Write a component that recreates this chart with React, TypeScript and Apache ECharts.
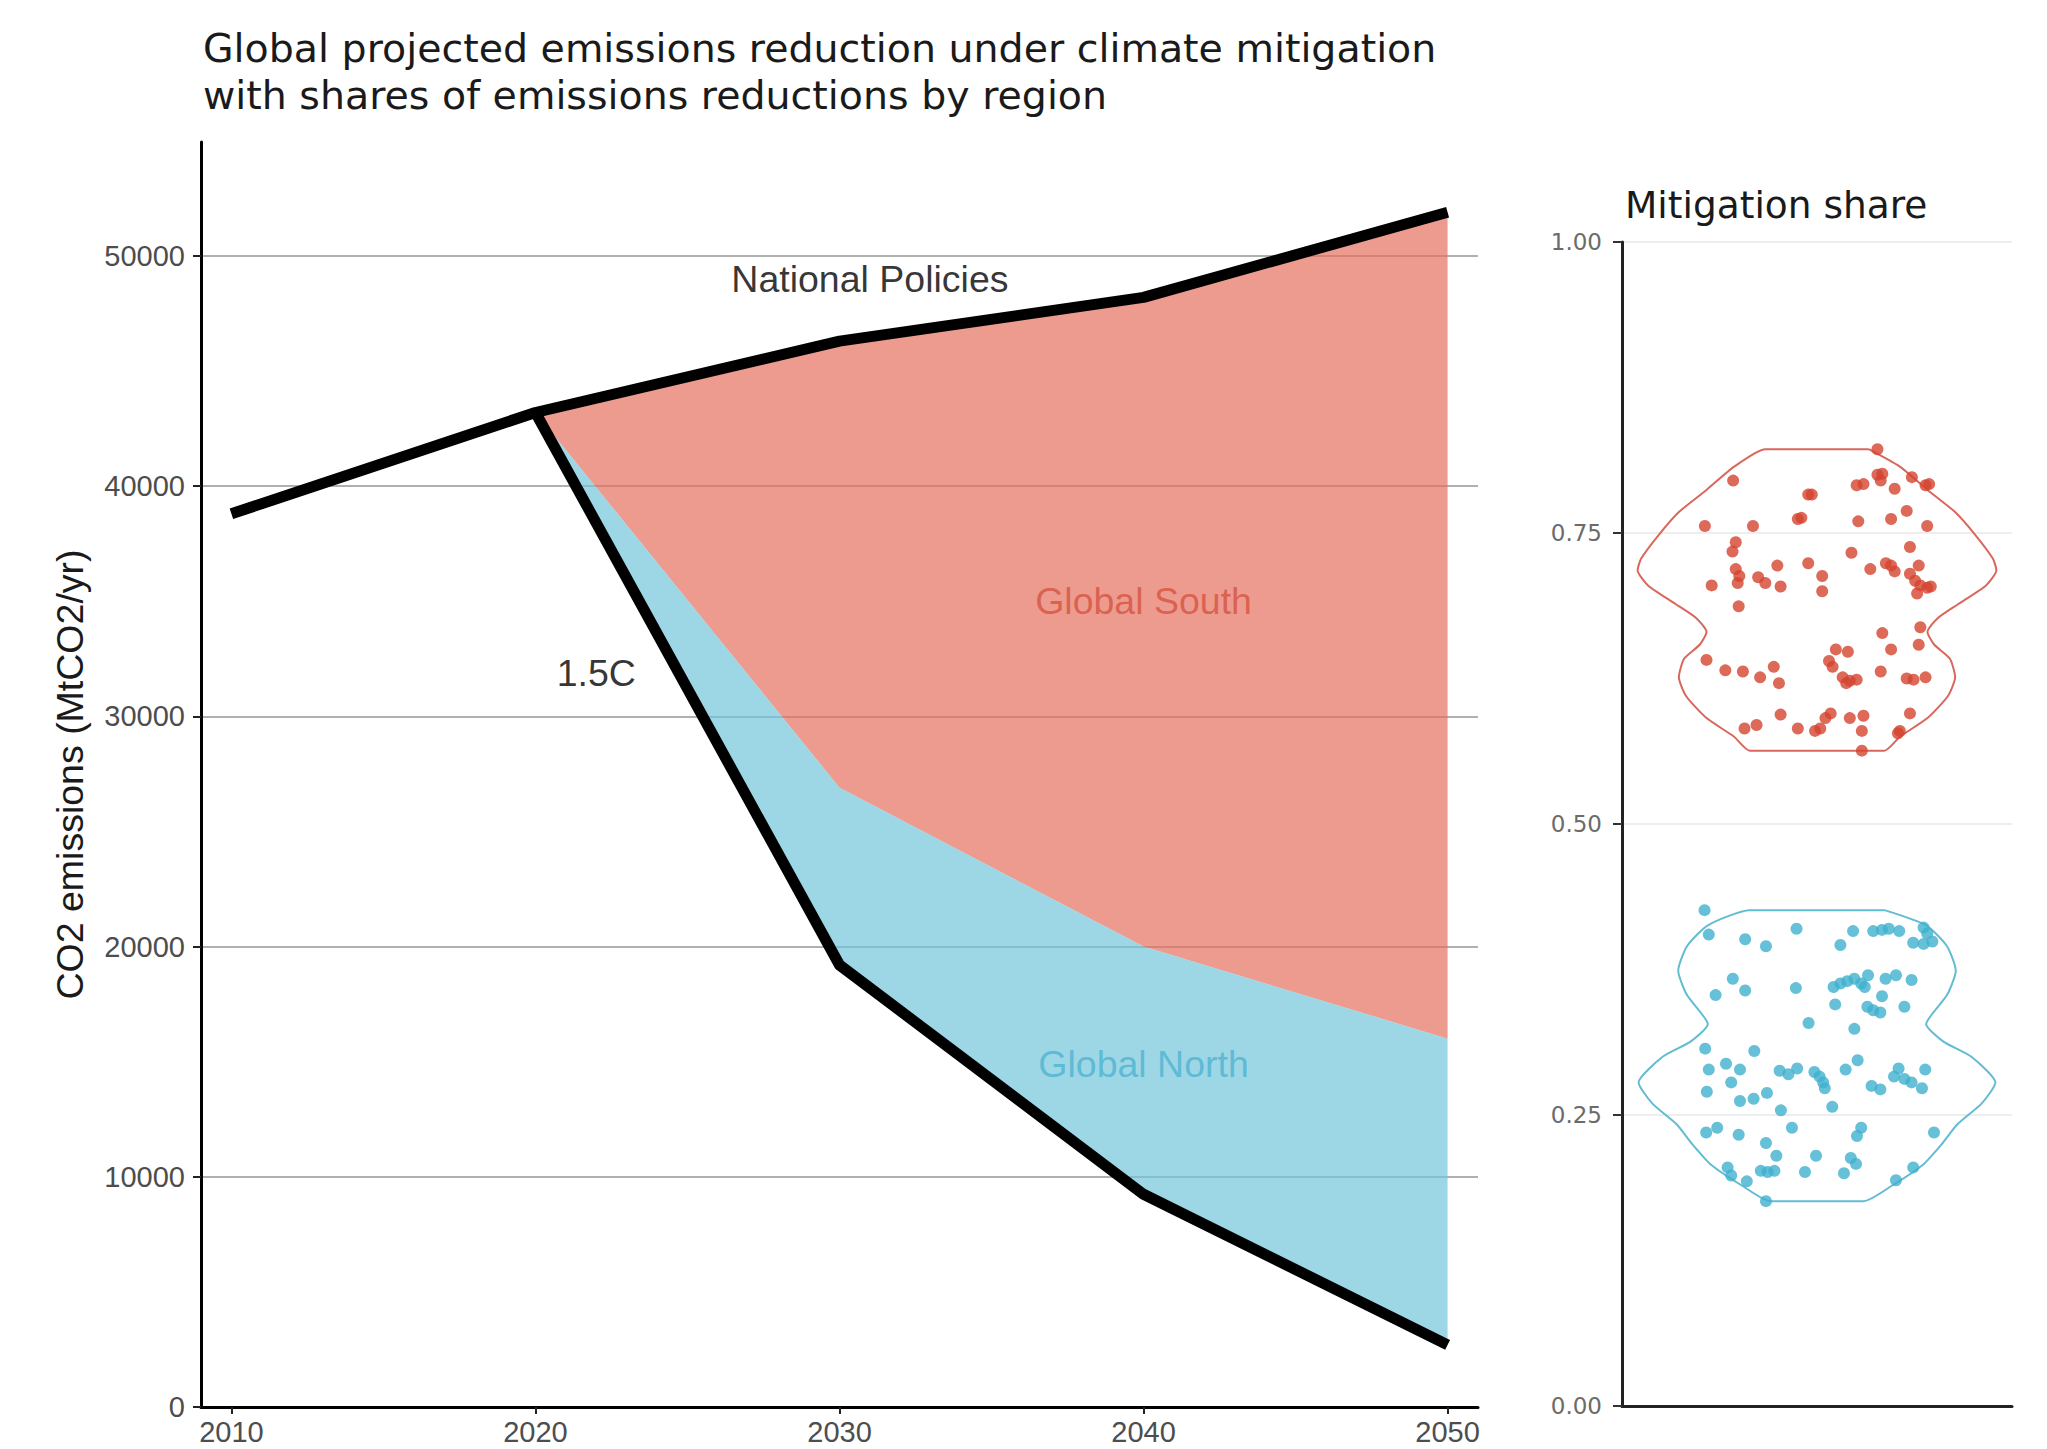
import React, { useEffect, useRef } from "react";
import * as echarts from "echarts";

// ---- Main panel data ----
const years = [2010, 2020, 2030, 2040, 2050];
const nationalPolicies = [38800, 43200, 46300, 48200, 51900];
const pathwayYears = [2020, 2030, 2040, 2050];
const pathway15C = [43200, 19200, 9240, 2700];
const northSouthSplit = [43200, 26900, 20000, 16000];
const emissionTicks = [0, 10000, 20000, 30000, 40000, 50000];

// ---- Mitigation share panel data ----
const shareTicks = [0, 0.25, 0.5, 0.75, 1];
const southViolinY = [0.822, 0.807, 0.787, 0.768, 0.748, 0.728, 0.718, 0.705, 0.689, 0.677, 0.665, 0.654, 0.642, 0.626, 0.61, 0.591, 0.575, 0.563];
const southViolinHalfWidth = [0.159, 0.255, 0.34, 0.425, 0.488, 0.541, 0.552, 0.52, 0.435, 0.372, 0.34, 0.361, 0.409, 0.425, 0.403, 0.34, 0.255, 0.207];
const northViolinY = [0.426, 0.413, 0.395, 0.374, 0.353, 0.328, 0.313, 0.3, 0.278, 0.26, 0.242, 0.225, 0.207, 0.189, 0.176];
const northViolinHalfWidth = [0.208, 0.336, 0.4, 0.427, 0.4, 0.336, 0.389, 0.475, 0.549, 0.507, 0.432, 0.384, 0.325, 0.229, 0.144];

const southPoints = [
  [1.186, 0.822], [0.742, 0.795], [1.122, 0.791], [1.143, 0.792], [1.186, 0.8], [1.201, 0.801], [1.196, 0.795], [1.239, 0.788],
  [1.292, 0.798], [1.345, 0.792], [1.334, 0.791], [0.973, 0.783], [0.984, 0.783], [0.941, 0.762], [0.952, 0.763], [0.655, 0.756],
  [0.803, 0.756], [1.127, 0.76], [1.228, 0.762], [1.276, 0.769], [1.339, 0.756], [0.75, 0.742], [0.74, 0.734], [1.286, 0.738],
  [1.106, 0.733], [0.973, 0.724], [0.878, 0.722], [0.75, 0.719], [0.761, 0.713], [0.756, 0.707], [0.819, 0.712], [0.841, 0.707],
  [0.888, 0.704], [1.016, 0.713], [1.016, 0.7], [0.676, 0.705], [1.164, 0.719], [1.212, 0.724], [1.228, 0.722], [1.239, 0.717],
  [1.313, 0.722], [1.286, 0.715], [1.302, 0.709], [1.318, 0.705], [1.339, 0.703], [1.35, 0.704], [1.308, 0.698], [0.759, 0.687],
  [1.318, 0.669], [1.201, 0.664], [1.313, 0.654], [1.228, 0.65], [1.058, 0.65], [1.095, 0.648], [0.66, 0.641], [1.037, 0.64],
  [1.048, 0.635], [0.718, 0.632], [0.772, 0.631], [0.867, 0.635], [0.825, 0.626], [0.883, 0.621], [1.196, 0.631], [1.079, 0.626],
  [1.101, 0.623], [1.122, 0.624], [1.09, 0.621], [1.276, 0.625], [1.297, 0.624], [1.334, 0.626], [1.286, 0.595], [0.888, 0.594],
  [1.042, 0.595], [1.026, 0.591], [1.101, 0.591], [1.143, 0.593], [0.777, 0.582], [0.814, 0.585], [0.941, 0.582], [0.994, 0.58],
  [1.01, 0.582], [1.138, 0.58], [1.255, 0.58], [1.249, 0.578], [1.138, 0.563],
];

const northPoints = [
  [0.654, 0.426], [0.667, 0.405], [0.779, 0.401], [0.843, 0.395], [0.937, 0.41], [1.072, 0.396], [1.111, 0.408], [1.173, 0.408],
  [1.2, 0.409], [1.221, 0.41], [1.253, 0.408], [1.328, 0.411], [1.339, 0.406], [1.296, 0.398], [1.328, 0.397], [1.355, 0.399],
  [0.741, 0.367], [0.779, 0.357], [0.688, 0.353], [0.935, 0.359], [1.051, 0.36], [1.072, 0.363], [1.093, 0.365], [1.115, 0.367],
  [1.136, 0.363], [1.157, 0.37], [1.147, 0.36], [1.211, 0.367], [1.243, 0.37], [1.291, 0.366], [1.056, 0.345], [1.155, 0.343],
  [1.173, 0.34], [1.195, 0.338], [1.2, 0.352], [1.269, 0.343], [0.974, 0.329], [1.115, 0.324], [0.656, 0.307], [0.807, 0.305],
  [0.72, 0.294], [0.763, 0.289], [0.667, 0.289], [0.885, 0.288], [0.912, 0.285], [0.939, 0.29], [0.992, 0.287], [1.008, 0.283],
  [1.019, 0.278], [1.024, 0.273], [1.088, 0.289], [1.125, 0.297], [1.251, 0.29], [1.237, 0.283], [1.269, 0.281], [1.291, 0.278],
  [1.323, 0.273], [1.333, 0.289], [0.736, 0.278], [0.661, 0.27], [0.763, 0.262], [0.805, 0.264], [0.846, 0.269], [1.168, 0.275],
  [1.195, 0.272], [1.047, 0.257], [0.889, 0.254], [0.659, 0.235], [0.693, 0.239], [0.759, 0.233], [0.923, 0.239], [1.136, 0.239],
  [1.123, 0.232], [1.36, 0.235], [0.843, 0.226], [0.875, 0.215], [0.997, 0.215], [1.104, 0.213], [1.12, 0.208], [1.083, 0.2],
  [0.725, 0.205], [0.736, 0.198], [0.784, 0.193], [0.827, 0.202], [0.848, 0.201], [0.869, 0.202], [0.963, 0.201], [1.243, 0.194],
  [1.296, 0.205], [0.843, 0.176],
];

const SANS = "'Liberation Sans', Arial, Helvetica, sans-serif";
const WIDE = "'DejaVu Sans', 'Liberation Sans', sans-serif";

function violinOutline(center: number, ys: number[], halves: number[]) {
  const right = ys.map((y, i) => [center + halves[i], y]);
  const left = ys.map((y, i) => [center - halves[i], y]).reverse();
  return [...right, ...left, right[0]];
}

function bandSeries(name: string, upper: number[], lower: number[], fill: string) {
  const top = pathwayYears.map((yr, i) => [yr, upper[i]]);
  const bottom = pathwayYears.map((yr, i) => [yr, lower[i]]).reverse();
  const polygon = [...top, ...bottom];
  return {
    type: "custom",
    name,
    xAxisIndex: 0,
    yAxisIndex: 0,
    silent: true,
    z: 2,
    data: polygon,
    renderItem: (params: any, api: any) => {
      if (params.dataIndex !== 0) return null;
      const points = polygon.map((p) => api.coord(p));
      return { type: "polygon", shape: { points }, style: { fill, stroke: "none" } };
    },
  };
}

function buildOption() {
  const npOnPathway = pathwayYears.map((yr) => nationalPolicies[years.indexOf(yr)]);
  const fmt = (v: number) => String(v);

  return {
    animation: false,
    backgroundColor: "#ffffff",
    title: [
      {
        text: "Global projected emissions reduction under climate mitigation\nwith shares of emissions reductions by region",
        left: 203,
        top: 24,
        padding: 0,
        textStyle: { fontFamily: WIDE, fontSize: 39.5, fontWeight: "normal", color: "#1a1a1a", lineHeight: 47 },
      },
      {
        text: "Mitigation share",
        left: 1625,
        top: 183,
        padding: 0,
        textStyle: { fontFamily: WIDE, fontSize: 37.5, fontWeight: "normal", color: "#1a1a1a", lineHeight: 44 },
      },
    ],
    grid: [
      { left: 201, top: 142, width: 1277, height: 1265, containLabel: false },
      { left: 1622, top: 242, width: 390, height: 1164, containLabel: false },
    ],
    xAxis: [
      {
        type: "value",
        gridIndex: 0,
        min: 2009,
        max: 2051,
        axisLine: { show: true, onZero: false, lineStyle: { color: "#000", width: 3 } },
        axisTick: { show: true, length: 7, customValues: years, lineStyle: { color: "#222", width: 2 } },
        axisLabel: { customValues: years, formatter: fmt, fontFamily: SANS, fontSize: 29, color: "#4d4d4d", margin: 10 },
        splitLine: { show: false },
      },
      {
        type: "value",
        gridIndex: 1,
        min: 0.4,
        max: 1.6,
        axisLine: { show: true, onZero: false, lineStyle: { color: "#222", width: 3 } },
        axisTick: { show: false },
        axisLabel: { show: false },
        splitLine: { show: false },
      },
    ],
    yAxis: [
      {
        type: "value",
        gridIndex: 0,
        min: 0,
        max: 54950,
        interval: 10000,
        name: "CO2 emissions (MtCO2/yr)",
        nameLocation: "middle",
        nameGap: 112,
        nameTextStyle: { fontFamily: SANS, fontSize: 37.5, color: "#1a1a1a" },
        axisLine: { show: true, onZero: false, lineStyle: { color: "#000", width: 3 } },
        axisTick: { show: true, length: 8, customValues: emissionTicks, lineStyle: { color: "#222", width: 2 } },
        axisLabel: { customValues: emissionTicks, formatter: fmt, fontFamily: SANS, fontSize: 29, color: "#4d4d4d", margin: 16 },
        splitLine: { show: true, showMinLine: false, lineStyle: { color: "#b0b0b0", width: 2 } },
      },
      {
        type: "value",
        gridIndex: 1,
        min: 0,
        max: 1,
        interval: 0.25,
        axisLine: { show: true, onZero: false, lineStyle: { color: "#222", width: 3 } },
        axisTick: { show: true, length: 9, customValues: shareTicks, lineStyle: { color: "#333", width: 2 } },
        axisLabel: {
          customValues: shareTicks,
          formatter: (v: number) => v.toFixed(2),
          fontFamily: WIDE,
          fontSize: 23,
          color: "#6b6b6b",
          margin: 20,
        },
        splitLine: { show: true, showMinLine: false, lineStyle: { color: "#eeeeee", width: 2 } },
      },
    ],
    series: [
      bandSeries("Global South", npOnPathway, northSouthSplit, "rgba(231,112,95,0.7)"),
      bandSeries("Global North", northSouthSplit, pathway15C, "rgba(115,198,219,0.7)"),
      {
        type: "line",
        name: "National Policies",
        xAxisIndex: 0,
        yAxisIndex: 0,
        data: years.map((yr, i) => [yr, nationalPolicies[i]]),
        symbol: "none",
        lineStyle: { color: "#000", width: 11, cap: "butt", join: "round" },
        z: 5,
      },
      {
        type: "line",
        name: "1.5C",
        xAxisIndex: 0,
        yAxisIndex: 0,
        data: pathwayYears.map((yr, i) => [yr, pathway15C[i]]),
        symbol: "none",
        lineStyle: { color: "#000", width: 11, cap: "butt", join: "round" },
        z: 5,
      },
      {
        type: "scatter",
        name: "labels",
        xAxisIndex: 0,
        yAxisIndex: 0,
        symbolSize: 1,
        itemStyle: { color: "rgba(0,0,0,0)" },
        silent: true,
        z: 6,
        label: { show: true, position: "inside", formatter: "{b}", fontFamily: SANS, fontSize: 37.5 },
        data: [
          { name: "National Policies", value: [2031.0, 49000], label: { color: "#000000" } },
          { name: "1.5C", value: [2022.0, 31900], label: { color: "#000000" } },
          { name: "Global South", value: [2040.0, 35000], label: { color: "#d5533f" } },
          { name: "Global North", value: [2040.0, 14900], label: { color: "#4db3d1" } },
        ],
      },
      {
        type: "line",
        name: "South violin",
        xAxisIndex: 1,
        yAxisIndex: 1,
        data: violinOutline(1, southViolinY, southViolinHalfWidth),
        symbol: "none",
        smooth: 0.2,
        lineStyle: { color: "#d9675c", width: 2 },
        z: 3,
      },
      {
        type: "line",
        name: "North violin",
        xAxisIndex: 1,
        yAxisIndex: 1,
        data: violinOutline(1, northViolinY, northViolinHalfWidth),
        symbol: "none",
        smooth: 0.2,
        lineStyle: { color: "#62bcd2", width: 2 },
        z: 3,
      },
      {
        type: "scatter",
        name: "South share",
        xAxisIndex: 1,
        yAxisIndex: 1,
        data: southPoints,
        symbolSize: 12,
        itemStyle: { color: "#d5432f" },
        z: 4,
      },
      {
        type: "scatter",
        name: "North share",
        xAxisIndex: 1,
        yAxisIndex: 1,
        data: northPoints,
        symbolSize: 12,
        itemStyle: { color: "#3fb0ce" },
        z: 4,
      },
    ],
  };
}

export default function App() {
  const ref = useRef<HTMLDivElement | null>(null);
  useEffect(() => {
    document.body.style.margin = "0";
    if (!ref.current) return;
    const chart = echarts.init(ref.current, undefined, { renderer: "svg" });
    chart.setOption(buildOption() as any);
    return () => chart.dispose();
  }, []);
  return <div ref={ref} style={{ width: 2047, height: 1449 }} />;
}
